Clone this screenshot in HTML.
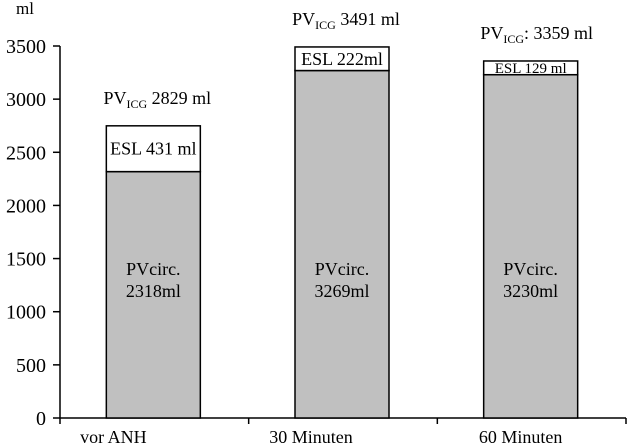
<!DOCTYPE html>
<html><head><meta charset="utf-8"><style>
body{margin:0;background:#fff}
svg{display:block;font-family:"Liberation Serif",serif}
</style></head><body>
<svg id="chart" width="627" height="444" viewBox="0 0 627 444"></svg>
<script>
const categories = ["vor ANH", "30 Minuten", "60 Minuten"];
const pvCirc = [2318, 3269, 3230];
const esl = [431, 222, 129];
const pvIcg = [2829, 3491, 3359];
const eslLabels = ["ESL 431 ml", "ESL 222ml", "ESL 129 ml"];
const circLabels = ["2318ml", "3269ml", "3230ml"];
const icgValueLabels = [" 2829 ml", " 3491 ml", ": 3359 ml"];
const yTicks = [0, 500, 1000, 1500, 2000, 2500, 3000, 3500];

const NS = "http://www.w3.org/2000/svg";
const svg = document.getElementById("chart");
const x0 = 60, x1 = 626, y0 = 418, yTop = 46, yMax = 3500;
const catW = (x1 - x0) / categories.length;
const barW = 94;
const y = v => y0 - (v / yMax) * (y0 - yTop);
const cx = i => x0 + catW * (i + 0.5) - 1;
function mk(tag, attrs, text) {
  const e = document.createElementNS(NS, tag);
  for (const k in attrs) e.setAttribute(k, attrs[k]);
  if (text !== undefined) e.textContent = text;
  svg.appendChild(e);
  return e;
}
// y axis
let e = mk("line", {x1: x0, y1: yTop, x2: x0, y2: y0, stroke: "#000", "stroke-width": 1.5});


yTicks.forEach(t => {
  const l = mk("line", {x1: x0 - 7, y1: y(t), x2: x0, y2: y(t), stroke: "#000", "stroke-width": 1.5});
  
  
  const tx = mk("text", {x: 46, y: y(t) + 7, "text-anchor": "end", "font-size": 20}, t);
  
  
});
e = mk("text", {x: 16, y: 14, "font-size": 17}, "ml");


// x axis
e = mk("line", {x1: x0, y1: y0, x2: x1, y2: y0, stroke: "#000", "stroke-width": 1.5});


for (let i = 0; i <= categories.length; i++) {
  const l = mk("line", {x1: x0 + catW * i, y1: y0, x2: x0 + catW * i, y2: y0 + 6, stroke: "#000", "stroke-width": 1.5});
  
  
}
const labelShift = [-40, -31, -10];
categories.forEach((c, i) => {
  const c0 = cx(i);
  const tx = mk("text", {x: c0 + labelShift[i], y: 443, "text-anchor": "middle", "font-size": 18}, c);
  
  
  const bx = c0 - barW / 2;
  const r1 = mk("rect", {x: bx, y: y(pvCirc[i]), width: barW, height: y0 - y(pvCirc[i]), fill: "#c0c0c0", stroke: "#000", "stroke-width": 1.5});
  
  
  const r2 = mk("rect", {x: bx, y: y(pvCirc[i] + esl[i]), width: barW, height: y(pvCirc[i]) - y(pvCirc[i] + esl[i]), fill: "#fff", stroke: "#000", "stroke-width": 1.5});
  
  
  const small = esl[i] < 180;
  const midE = (y(pvCirc[i]) + y(pvCirc[i] + esl[i])) / 2;
  const t1 = mk("text", {x: c0, y: midE + (small ? 5 : 6), "text-anchor": "middle", "font-size": small ? 15 : 18}, eslLabels[i]);
  
  
  const t2 = mk("text", {x: c0, y: 275, "text-anchor": "middle", "font-size": 18}, "PVcirc.");
  
  
  const t3 = mk("text", {x: c0, y: 297, "text-anchor": "middle", "font-size": 18}, circLabels[i]);
  
  
  const ty = y(pvIcg[i] ? pvCirc[i] + esl[i] : 0) - 22;
  const t4 = mk("text", {x: c0 + (i === 2 ? 6 : 4), y: ty, "text-anchor": "middle", "font-size": 18});
  
  
  const a = document.createElementNS(NS, "tspan"); a.textContent = "PV"; t4.appendChild(a);
  const b = document.createElementNS(NS, "tspan"); b.setAttribute("font-size", 12); b.setAttribute("dy", 4); b.textContent = "ICG"; t4.appendChild(b);
  const d = document.createElementNS(NS, "tspan"); d.setAttribute("dy", -4); d.textContent = icgValueLabels[i]; t4.appendChild(d);
});
</script>
</body></html>
